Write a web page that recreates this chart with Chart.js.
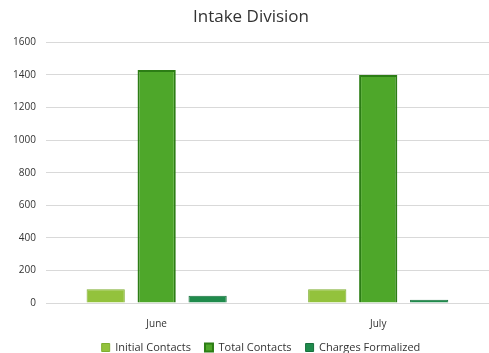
<!DOCTYPE html>
<html>
<head>
<meta charset="utf-8">
<script src="https://cdn.jsdelivr.net/npm/chart.js@4/dist/chart.umd.min.js"></script>
<style>
  html, body { margin: 0; padding: 0; background: #fff; }
  #wrap { width: 489px; height: 353px; }
</style>
</head>
<body>
<div id="wrap"><canvas id="myChart"></canvas></div>
<script>
// data
const months = ['June', 'July']
const initialContacts = [85, 85]
const totalContacts = [1430, 1400]
const chargesFormalized = [45, 20]
const yTicks = [0, 200, 400, 600, 800, 1000, 1200, 1400, 1600]

// legend keeps wide gaps between items but takes little room under the axis
const legendTrim = {
    id: 'legendTrim',
    afterInit(chart) {
        const fit = chart.legend.fit
        chart.legend.fit = function () {
            fit.call(this)
            this.height -= 19
        }
    },
    afterLayout(chart) {
        // grow the legend box upward so its items are drawn higher, nudge right
        chart.legend.top -= 9
        chart.legend.left += 10
        chart.legend.right += 10
    }
}

const ctx = document.getElementById('myChart')
const myChart = new Chart(ctx, {
    type: 'bar',
    data: {
        labels: months,
        datasets: [{
            label: 'Initial Contacts',
            data: initialContacts,
            backgroundColor: '#93c23c',
            borderColor: '#7fae30',
            borderWidth: 1
        }, {
            label: 'Total Contacts',
            data: totalContacts,
            backgroundColor: '#4ea72a',
            borderColor: '#2c7d15',
            borderWidth: 2
        }, {
            label: 'Charges Formalized',
            data: chargesFormalized,
            backgroundColor: '#1f8b4c',
            borderColor: '#18703d',
            borderWidth: 1
        }]
    },
    plugins: [legendTrim],
    options: {
        responsive: true,
        maintainAspectRatio: false,
        animation: false,
        categoryPercentage: 0.69,
        barPercentage: 0.75,
        // the original picture is cut off on the right, so the plot runs past the edge
        layout: { padding: { left: 3, right: -10, top: 4, bottom: 0 } },
        plugins: {
            title: {
                display: true,
                text: 'Intake Division',
                color: '#333',
                font: { family: 'Open Sans', size: 17, weight: 'normal' },
                padding: { top: 3, bottom: 15 }
            },
            legend: {
                position: 'bottom',
                labels: {
                    color: '#333',
                    font: { family: 'Open Sans', size: 11 },
                    boxWidth: 8,
                    boxHeight: 8,
                    padding: 14
                }
            },
            tooltip: { enabled: false }
        },
        scales: {
            x: {
                grid: { display: false },
                border: { display: false },
                ticks: { color: '#333', font: { family: 'Open Sans', size: 10 }, padding: 7 }
            },
            y: {
                min: 0,
                max: 1600,
                afterBuildTicks: axis => { axis.ticks = yTicks.map(v => ({ value: v })) },
                grid: { color: '#d9d9d9', drawTicks: false },
                border: { display: false },
                ticks: {
                    color: '#333',
                    font: { family: 'Open Sans', size: 10 },
                    padding: 10,
                    callback: v => String(v)
                }
            }
        }
    }
})
</script>
</body>
</html>
